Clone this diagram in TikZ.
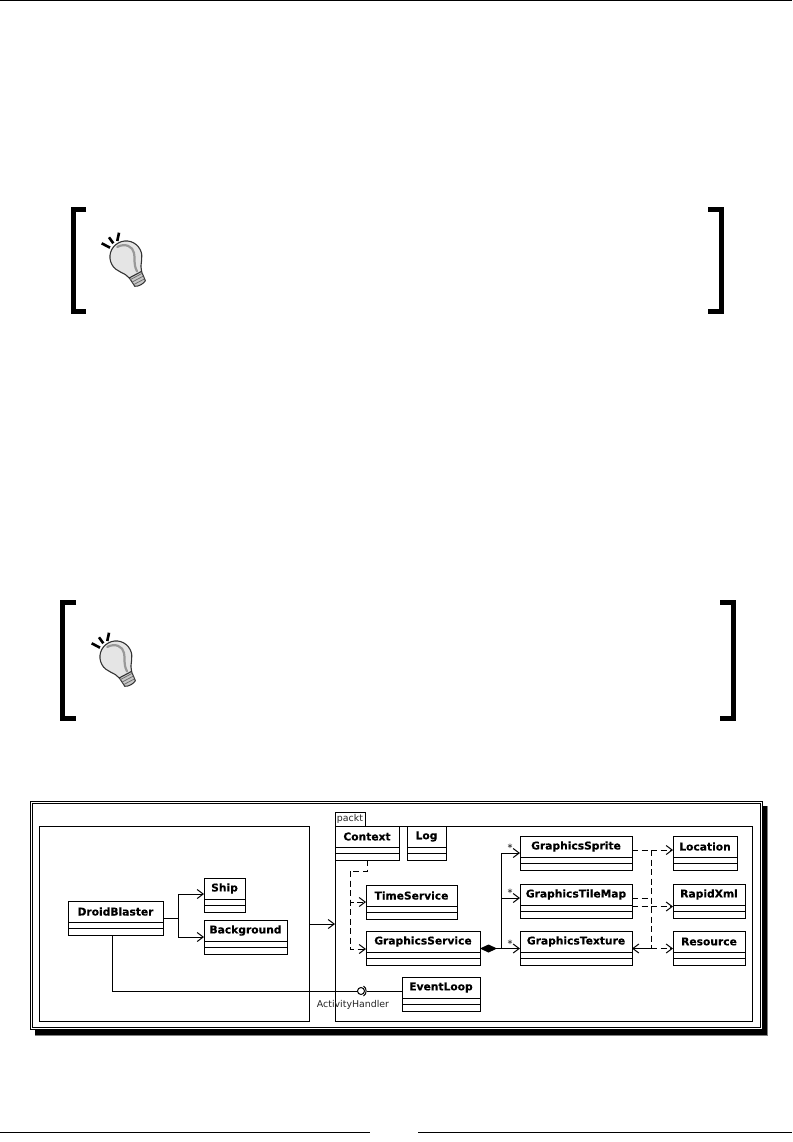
\documentclass[tikz,border=0pt]{standalone}
\usepackage{fontspec}
\setmainfont{DejaVu Sans}
\newfontfamily\clsfont[BoldFeatures={FakeBold=0.25}]{DejaVu Sans}
\usetikzlibrary{arrows.meta,calc}
\tikzset{
  x=1pt,y=-1pt,
  line/.style={line width=1pt,black},
  cls/.style={draw,line width=1pt,fill=white,minimum height=34pt,anchor=north west,inner sep=0pt,outer sep=0pt},
  clsname/.style={inner sep=0pt,font=\clsfont\fontsize{10.7}{12}\selectfont\bfseries,anchor=center},
  small/.style={inner sep=0pt,font=\fontsize{9.4}{11}\selectfont,text=black!85},
  assoc/.style={line,-{Straight Barb[length=6pt,width=9pt,line width=1pt]}},
  dep/.style={assoc,dash pattern=on 6pt off 3.5pt},
  depline/.style={line,dash pattern=on 6pt off 3.5pt},
  bracket/.style={line width=5pt,black,line cap=butt,line join=miter},
  rule/.style={line width=1.5pt,black},
  ray/.style={line width=2.6pt,black},
}
\newcommand{\cls}[5]{%
  \node[cls,minimum width=#4pt] (#1) at (#2,#3) {};
  \node[clsname] (#1-t) at ($(#1.north)+(0,10.5)$) {#5};
  \draw[line] ($(#1.north west)+(0,21)$) -- ($(#1.north east)+(0,21)$);
  \draw[line] ($(#1.north west)+(0,27)$) -- ($(#1.north east)+(0,27)$);
}
\newcommand{\bulb}[2]{%
  \begin{scope}[shift={(#1,#2)}]
    \draw[ray] (-24.3,-13.7) -- (-16,-9.3);
    \draw[ray] (-17,-19.7) -- (-12.7,-13.7);
    \draw[ray] (-7,-24.3) -- (-8.7,-16);
    \begin{scope}[rotate=28]
      \fill[black!22,draw=black!80,line width=1pt] (-7,19) -- (7,19) -- (6,30) .. controls (3,32) and (-3,32) .. (-6,30) -- cycle;
      \draw[black!60,line width=.7pt] (-7,22) -- (7,22) (-6.5,25) -- (6.5,25) (-6,28) -- (6,28);
      \draw[fill=black!10,draw=black!80,line width=1.1pt] (-7,20) .. controls (-8,13) and (-16,9) .. (-16,0) .. controls (-16,-9) and (-9,-16) .. (0,-16) .. controls (9,-16) and (16,-9) .. (16,0) .. controls (16,9) and (8,13) .. (7,20) -- cycle;
      \draw[black!40,line width=2.2pt,line cap=round] (-3,-13) .. controls (6,-13) and (11,-6) .. (9,0) .. controls (8,5) and (3,9) .. (3,18);
    \end{scope}
  \end{scope}
}
\begin{document}
\begin{tikzpicture}
\useasboundingbox (0,0) rectangle (792,1142);
\fill[white] (0,0) rectangle (792,1142);
% page rules
\coordinate (tl) at (0,0.5);
\coordinate (tr) at (792,0.5);
\draw[rule] (tl) -- (tr);
\coordinate (bl1) at (0,1132.5);
\coordinate (bl2) at (370,1132.5);
\coordinate (br1) at (418,1132.5);
\coordinate (br2) at (792,1132.5);
\draw[rule] (bl1) -- (bl2);
\draw[rule] (br1) -- (br2);
% tip brackets
\draw[bracket] (86,209.5) -- (73.5,209.5) -- (73.5,311.5) -- (86,311.5);
\draw[bracket] (708,209.5) -- (721.5,209.5) -- (721.5,311.5) -- (708,311.5);
\bulb{126}{257}
\draw[bracket] (76,602) -- (62.5,602) -- (62.5,718.5) -- (76,718.5);
\draw[bracket] (720,602) -- (733,602) -- (733,718.5) -- (720,718.5);
\bulb{116}{657}
% frame
\fill[black!50] (34.5,805.5) rectangle (767.5,1035.5);
\fill[black] (34.5,806) rectangle (766.5,1034.5);
\draw[line,fill=white] (30,801.5) rectangle (762,1029);
\draw[line,line width=.8pt] (32,803.5) rectangle (760,1027);
% containers
\node[draw,line width=1pt,anchor=north west,minimum width=269.5pt,minimum height=195pt,inner sep=0pt,outer sep=0pt] (left) at (39.5,826) {};
\node[draw,line width=1pt,anchor=north west,minimum width=30pt,minimum height=14pt,inner sep=0pt,outer sep=0pt] (tab) at (335,812) {};
\node[small,anchor=center] (tabt) at (350,818.5) {packt};
\node[draw,line width=1pt,anchor=north west,minimum width=417.5pt,minimum height=195pt,inner sep=0pt,outer sep=0pt] (pack) at (335,826) {};
% classes
\cls{droid}{68}{901}{95}{DroidBlaster}
\cls{ship}{204}{878}{41}{Ship}
\cls{bg}{204}{920}{83}{Background}
\cls{ctx}{335}{826}{64}{Context}
\cls{log}{407}{826}{39}{Log}
\cls{time}{366}{885}{91}{TimeService}
\cls{gs}{366}{931}{114}{GraphicsService}
\cls{loop}{402}{977}{78}{EventLoop}
\cls{sprite}{520}{836}{112}{GraphicsSprite}
\cls{tile}{520}{884}{112}{GraphicsTileMap}
\cls{tex}{520}{931}{112}{GraphicsTexture}
\cls{loc}{673}{836}{64}{Location}
\cls{xml}{673}{884}{72}{RapidXml}
\cls{res}{673}{931}{72}{Resource}
% left associations
\coordinate (j1) at (178,918);
\draw[line] (j1 -| droid.east) -- (j1);
\draw[assoc] (j1) |- ($(ship.north west)+(0,16)$);
\draw[assoc] (j1) |- ($(bg.north west)+(0,17)$);
\coordinate (m1) at (309,924);
\draw[assoc] (m1 -| left.east) -- (m1 -| pack.west);
% Context dependency
\coordinate (c1) at (367,871);
\coordinate (c2) at (350,871);
\draw[depline] (c1 |- ctx.south) -- (c1) -- (c2);
\draw[dep] (c2) |- ($(time.north west)+(0,17)$);
\draw[dep] (c2) |- ($(gs.north west)+(0,18)$);
% lollipop
\coordinate (l0) at (112,991);
\node[circle,draw,line width=1pt,fill=white,minimum size=7pt,inner sep=0pt,outer sep=0pt] (lolly) at (361,991) {};
\draw[line] (droid.south -| l0) -- (l0) -- (lolly.west);
\draw[line] ($(lolly.center)+(2.5,-5)$) .. controls ($(lolly.center)+(6,-3)$) and ($(lolly.center)+(6,3)$) .. ($(lolly.center)+(2.5,5)$);
\draw[line] ($(lolly.center)+(5.5,0)$) -- (lolly.center -| loop.west);
\node[small,anchor=center] (ah) at (353,1005) {ActivityHandler};
% composition
\coordinate (j2) at (501,948.5);
\draw[line,{Diamond[length=17pt,width=8pt,fill=black]}-] (j2 -| gs.east) -- (j2);
\draw[assoc] (j2) -- (j2 -| tex.west);
\coordinate (a1) at (501,853);
\coordinate (a2) at (501,898);
\draw[line] (j2) -- (a1);
\draw[assoc] (a1) -- (a1 -| sprite.west);
\draw[assoc] (a2) -- (a2 -| tile.west);
\node[inner sep=0pt,font=\fontsize{10}{12}\selectfont] (s1) at (510,847.5) {*};
\node[inner sep=0pt,font=\fontsize{10}{12}\selectfont] (s2) at (510,892.5) {*};
\node[inner sep=0pt,font=\fontsize{10}{12}\selectfont] (s3) at (510,943.5) {*};
% dependencies right
\coordinate (d1) at (651,850);
\coordinate (d2) at (651,898);
\coordinate (d3) at (651,948.5);
\draw[dep] (d1 -| sprite.east) -- (d1 -| loc.west);
\draw[depline] (d1) -- (d3);
\draw[depline] (d2 -| tile.east) -- (d2);
\coordinate (d4) at (651,906.5);
\draw[dep] (d4 -| tile.east) -- (d4 -| xml.west);
\draw[assoc] (d3) -- (d3 -| tex.east);
\draw[dep] (d3) -- (d3 -| res.west);
\end{tikzpicture}
\end{document}
